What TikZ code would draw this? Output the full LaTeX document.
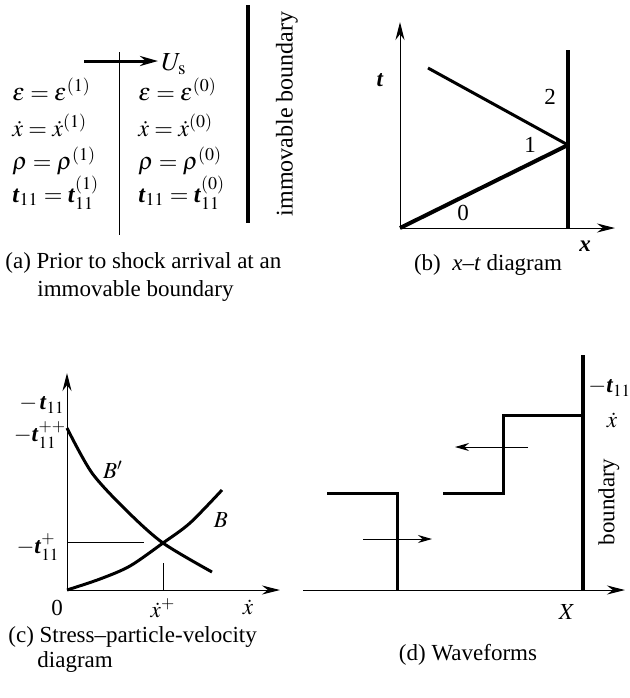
\documentclass[tikz,border=0pt]{standalone}
\usepackage{amsmath}
\usepackage{mathptmx}
\usepackage{fontspec}
\setmainfont{Liberation Serif}
\usepackage{tikz}
\usetikzlibrary{arrows.meta}
\newcommand{\tbold}{\textbf{\textit{t}}}
\tikzset{
  axisline/.style={-{Stealth[length=9pt,width=4.5pt]},line width=0.5pt},
  thinline/.style={line width=0.5pt},
  wallline/.style={line width=2pt},
  waveline/.style={line width=1.5pt},
  flowarrow/.style={-{Stealth[length=7pt,width=4pt]},line width=0.5pt},
  shockarrow/.style={-{Stealth[length=9pt,width=5pt]},line width=1.5pt},
  lbl/.style={inner sep=0pt,font=\fontsize{11.5}{14}\selectfont},
  eqn/.style={inner sep=0pt,anchor=base west,font=\fontsize{12}{14}\selectfont},
}

\begin{document}
\begin{tikzpicture}[x=0.5pt,y=-0.5pt]
  \useasboundingbox (0,0) rectangle (630,698);
  % (a) before arrival
  \coordinate (aUs0) at (84,61);
  \coordinate (aUs1) at (158,61);
  \coordinate (aFrT) at (119,52);
  \coordinate (aFrB) at (119,235);
  \coordinate (aWlT) at (248,5);
  \coordinate (aWlB) at (248,223);
  \draw[shockarrow] (aUs0) -- (aUs1);
  \draw[thinline] (aFrT) -- (aFrB);
  \draw[wallline] (aWlT) -- (aWlB);
  \node[lbl,anchor=west,font=\fontsize{13}{15}\selectfont] (nUs) at (161,64) {$U_{\mathrm{s}}$};
  \node[lbl,rotate=90,font=\fontsize{12}{14}\selectfont] (nImm) at (287,114) {immovable boundary};
  \node[eqn] (nE1) at (12,100) {$\varepsilon=\varepsilon^{(1)}$};
  \node[eqn] (nV1) at (12,136) {$\dot{x}=\dot{x}^{(1)}$};
  \node[eqn] (nR1) at (12,169) {$\rho=\rho^{(1)}$};
  \node[eqn] (nT1) at (12,202) {$\tbold_{11}=\tbold_{11}^{(1)}$};
  \node[eqn] (nE0) at (138,100) {$\varepsilon=\varepsilon^{(0)}$};
  \node[eqn] (nV0) at (138,136) {$\dot{x}=\dot{x}^{(0)}$};
  \node[eqn] (nR0) at (138,169) {$\rho=\rho^{(0)}$};
  \node[eqn] (nT0) at (138,202) {$\tbold_{11}=\tbold_{11}^{(0)}$};
  \node[lbl,anchor=base west] (capA1) at (5,268) {(a) Prior to shock arrival at an};
  \node[lbl,anchor=base west] (capA2) at (37,296) {immovable boundary};

  % (b) x-t diagram
  \coordinate (bO) at (400,228);
  \coordinate (bTop) at (400,22);
  \coordinate (bRt) at (615,228);
  \coordinate (bWlT) at (568,50);
  \coordinate (bHit) at (568,145);
  \coordinate (bRef) at (428,68);
  \draw[axisline] (bO) -- (bTop);
  \draw[axisline] (bO) -- (bRt);
  \draw[wallline] (bWlT) -- (bO -| bWlT);
  \draw[wallline] (bO) -- (bHit);
  \draw[waveline] (bRef) -- (bHit);
  \node[lbl] (nt) at (380,80) {$\tbold$};
  \node[lbl] (n2) at (550,97) {2};
  \node[lbl] (n1) at (530,145) {1};
  \node[lbl] (n0) at (463,213) {0};
  \node[lbl] (nx) at (585,246) {\textbf{\textit{x}}};
  \node[lbl] (capB) at (488,265) {(b)\ \ \textit{x}--\textit{t} diagram};

  % (c) stress - particle velocity
  \coordinate (cO) at (67,590);
  \coordinate (cTop) at (67,373);
  \coordinate (cRt) at (280,590);
  \coordinate (cHl) at (67,542);
  \coordinate (cHr) at (144,542);
  \coordinate (cVt) at (163,563);
  \coordinate (cVb) at (163,590);
  \draw[axisline] (cO) -- (cTop);
  \draw[axisline] (cO) -- (cRt);
  \draw[thinline] (cHl) -- (cHr);
  \draw[thinline] (cVt) -- (cVb);
  \draw[waveline] plot[smooth] coordinates {(67,428) (92,473) (127,511) (163,543) (212,572)};
  \draw[waveline] plot[smooth] coordinates {(67,590) (100,579) (130,566) (163,543) (190,523) (222,490)};
  \node[lbl] (nS) at (42,405) {$-\,\tbold_{11}$};
  \node[lbl] (nSpp) at (40,435) {$-\tbold_{11}^{++}$};
  \node[lbl] (nSp) at (38,547) {$-\tbold_{11}^{+}$};
  \node[lbl] (nBp) at (113,470) {$B'$};
  \node[lbl] (nB) at (221,520) {$B$};
  \node[lbl] (nZ) at (57,608) {0};
  \node[lbl] (nVp) at (163,608) {$\dot{x}^{+}$};
  \node[lbl] (nV) at (248,607) {$\dot{x}$};
  \node[lbl,anchor=base west] (capC1) at (8,642) {(c) Stress--particle-velocity};
  \node[lbl,anchor=base west] (capC2) at (37,667) {diagram};

  % (d) waveforms
  \coordinate (dL) at (303,590);
  \coordinate (dR) at (625,590);
  \coordinate (dWlT) at (583,355);
  \coordinate (dWlB) at (583,590);
  \coordinate (dS1a) at (327,493);
  \coordinate (dS1b) at (397,493);
  \coordinate (dS1c) at (397,590);
  \coordinate (dS2a) at (443,493);
  \coordinate (dS2b) at (503,493);
  \coordinate (dS2c) at (503,415);
  \coordinate (dS2d) at (583,415);
  \coordinate (dA1s) at (363,539);
  \coordinate (dA1e) at (432,539);
  \coordinate (dA2s) at (528,447);
  \coordinate (dA2e) at (455,447);
  \draw[axisline] (dL) -- (dR);
  \draw[wallline] (dWlT) -- (dWlB);
  \draw[waveline] (dS1a) -- (dS1b) -- (dS1c);
  \draw[waveline] (dS2a) -- (dS2b) -- (dS2c) -- (dS2d);
  \draw[flowarrow] (dA1s) -- (dA1e);
  \draw[flowarrow] (dA2s) -- (dA2e);
  \node[lbl,anchor=west] (nDs) at (588,388) {$-\tbold_{11}$};
  \node[lbl] (nDv) at (612,420) {$\dot{x}$};
  \node[lbl,rotate=90] (nBd) at (609,502) {boundary};
  \node[lbl] (nX) at (567,612) {$X$};
  \node[lbl] (capD) at (468,655) {(d) Waveforms};
\end{tikzpicture}
\end{document}
